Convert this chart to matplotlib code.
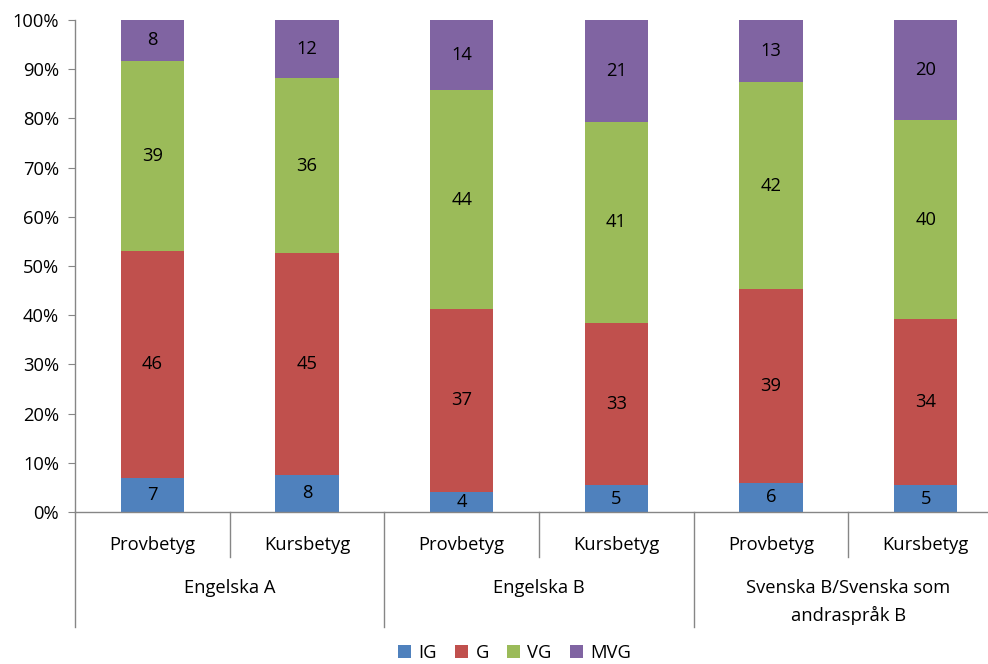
import matplotlib
matplotlib.use("Agg")
import matplotlib.pyplot as plt
import matplotlib.transforms as mtransforms
import numpy as np

plt.rcParams['font.family'] = ['Open Sans', 'DejaVu Sans']

categories = ["Provbetyg", "Kursbetyg", "Provbetyg", "Kursbetyg", "Provbetyg", "Kursbetyg"]
groups = ["Engelska A", "Engelska B", "Svenska B/Svenska som\nandraspråk B"]
series_names = ["IG", "G", "VG", "MVG"]
IG = [7.0, 7.6, 4.1, 5.4, 5.9, 5.4]
G = [46.0, 45.0, 37.2, 33.1, 39.4, 33.8]
VG = [38.7, 35.6, 44.4, 40.7, 42.0, 40.4]
MVG = [8.3, 11.8, 14.3, 20.8, 12.7, 20.4]
colors = ["#4F81BD", "#C0504D", "#9BBB59", "#8064A2"]
yticks = [0, 10, 20, 30, 40, 50, 60, 70, 80, 90, 100]

W, H = 988, 664
fig = plt.figure(figsize=(W / 100, H / 100), dpi=100)
ax_left, ax_right = 75, 1003
ax_top, ax_bot = 20, 512
ax = fig.add_axes([ax_left / W, (H - ax_bot) / H, (ax_right - ax_left) / W, (ax_bot - ax_top) / H])

x = np.arange(len(categories))
bottom = np.zeros(len(categories))
fs = 13.2
for name, vals, c in zip(series_names, [IG, G, VG, MVG], colors):
    vals = np.array(vals)
    bars = ax.bar(x, vals, 0.41, bottom=bottom, color=c, label=name, zorder=2)
    ax.bar_label(bars, labels=[f"{v:.0f}" for v in vals], label_type='center', fontsize=fs, color='black')
    bottom += vals

ax.set_xlim(-0.5, len(categories) - 0.5)
ax.set_ylim(0, 100)
ax.set_yticks(yticks)
ax.set_yticklabels([f"{t}%" for t in yticks])
ax.set_xticks([])
gray = "#868686"
for s in ['top', 'right']:
    ax.spines[s].set_visible(False)
for s in ['left', 'bottom']:
    ax.spines[s].set_color(gray)
    ax.spines[s].set_linewidth(1.0)
ax.tick_params(axis='y', length=5, color=gray, pad=6.5, labelsize=fs)

trans = mtransforms.blended_transform_factory(ax.transData, ax.transAxes)
hpx = ax_bot - ax_top
# small dividers
for xd in np.arange(0.5, len(categories) - 1, 2):
    ax.plot([xd, xd], [0, -45 / hpx], color=gray, lw=1.0, transform=trans, clip_on=False)
# group dividers
for xd in np.arange(-0.5, len(categories) + 0.5, 2):
    ax.plot([xd, xd], [0, -115 / hpx], color=gray, lw=1.0, transform=trans, clip_on=False)

for xi, cat in zip(x, categories):
    ax.text(xi, -33 / hpx, cat, transform=trans, ha='center', va='center', fontsize=fs)
for gi, g in enumerate(groups):
    for li, line in enumerate(g.split("\n")):
        ax.text(2 * gi + 0.5, -(76 + 27 * li) / hpx, line, transform=trans, ha='center', va='center', fontsize=fs)

fig.legend(loc='lower center', bbox_to_anchor=(0.521, -0.022), ncol=4, frameon=False, fontsize=fs,
           handlelength=0.7, handleheight=0.7, handletextpad=0.4, columnspacing=1.0)

fig.savefig("out.png", dpi=100)
